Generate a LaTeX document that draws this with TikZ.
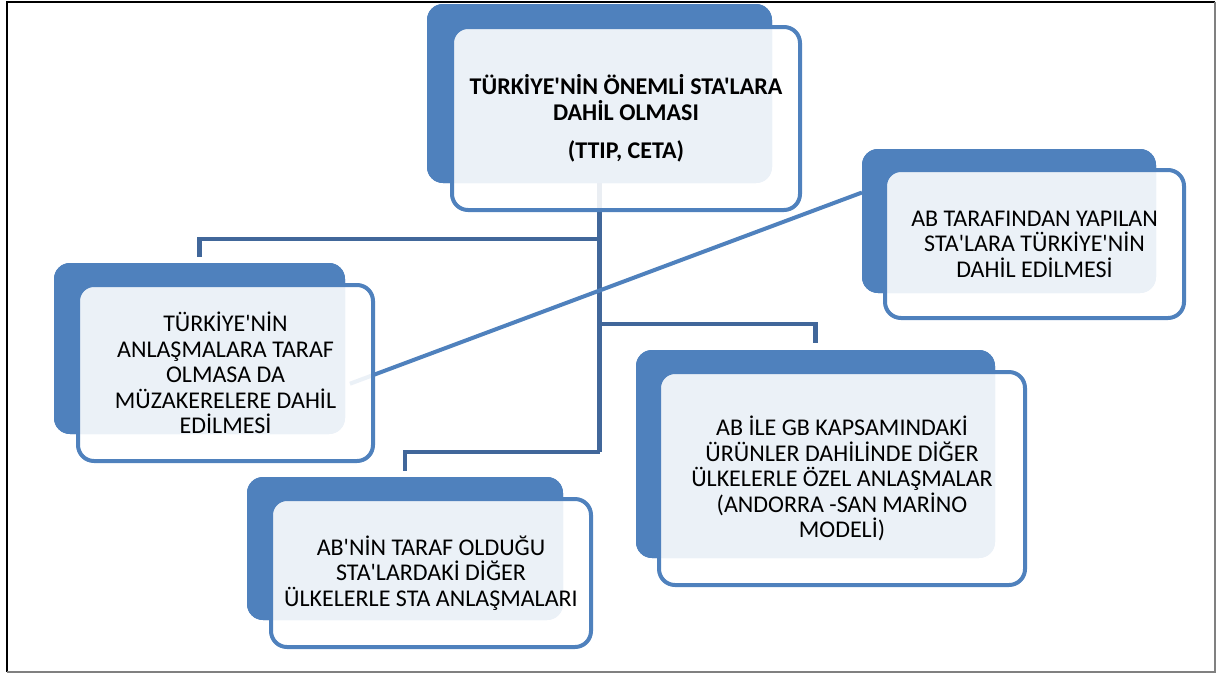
\documentclass[tikz,border=0pt]{standalone}
\usepackage{fontspec}
\setmainfont{Carlito}[Ligatures=TeXOff]
\definecolor{boxblue}{HTML}{4F81BD}
\definecolor{linkblue}{HTML}{41679A}
\begin{document}
\begin{tikzpicture}[x=1pt, y=-1pt]
\tikzstyle{back} = [fill=boxblue, rounded corners=16pt, inner sep=0pt];
\tikzstyle{front} = [draw=boxblue, line width=4pt, fill=white, fill opacity=0.89, text opacity=1, rounded corners=16pt, inner sep=0pt, align=center, font=\fontsize{24}{25.5}\selectfont];
\tikzstyle{link} = [draw=linkblue, line width=4.5pt];
\useasboundingbox (0,0) rectangle (1217,673);
% frame
\draw[black, line width=2pt] (6.5,672) -- (6.5,1.5) -- (1215,1.5);
\draw[gray, line width=1.2pt] (1215,1.5) -- (1215,672) -- (6.5,672);
% junctions
\coordinate (jl) at (599.5,239);
\coordinate (jr) at (599.5,324);
\coordinate (jb) at (599.5,452);
\coordinate (dl) at (350,383.7);
\coordinate (dr) at (862,192.5);
% back boxes
\node[back, minimum width=345pt, minimum height=179pt] (b1) at (599.5,93.5) {};
\node[back, minimum width=291pt, minimum height=171pt] (b2) at (199.5,348.5) {};
\node[back, minimum width=294pt, minimum height=144pt] (b3) at (1009,221) {};
\node[back, minimum width=316pt, minimum height=143pt] (b4) at (405,548.5) {};
\node[back, minimum width=359pt, minimum height=208pt] (b5) at (815.5,454) {};
% connectors
\draw[link] (b1.south) -- (jb);
\draw[link, shorten >=6pt] (jl) -| (b2.north);
\draw[link, shorten >=7pt] (jr) -| (b5.north);
\draw[link, shorten >=6pt] (jb) -| (b4.north);
\draw[draw=boxblue, line width=4pt] (dl) -- (dr);
% redraw back boxes over connectors
\node[back, minimum width=345pt, minimum height=179pt] at (b1) {};
\node[back, minimum width=291pt, minimum height=171pt] at (b2) {};
\node[back, minimum width=294pt, minimum height=144pt] at (b3) {};
\node[back, minimum width=316pt, minimum height=143pt] at (b4) {};
\node[back, minimum width=359pt, minimum height=208pt] at (b5) {};
% front boxes
\node[front, minimum width=348pt, minimum height=183pt] (f1) at (626,118.5) {\textbf{TÜRKİYE'NİN ÖNEMLİ STA'LARA}\\\textbf{DAHİL OLMASI}\\[13pt]\textbf{(TTIP, CETA)}};
\node[front, minimum width=295pt, minimum height=176pt] (f2) at (225.5,373) {TÜRKİYE'NİN\\ANLAŞMALARA TARAF\\OLMASA DA\\MÜZAKERELERE DAHİL\\EDİLMESİ};
\node[front, minimum width=299pt, minimum height=148pt] (f3) at (1034.5,244) {AB TARAFINDAN YAPILAN\\STA'LARA TÜRKİYE'NİN\\DAHİL EDİLMESİ};
\node[front, minimum width=320pt, minimum height=148pt] (f4) at (431,573) {AB'NİN TARAF OLDUĞU\\STA'LARDAKİ DİĞER\\ÜLKELERLE STA ANLAŞMALARI};
\node[front, minimum width=366pt, minimum height=213pt] (f5) at (842,478.5) {AB İLE GB KAPSAMINDAKİ\\ÜRÜNLER DAHİLİNDE DİĞER\\ÜLKELERLE ÖZEL ANLAŞMALAR\\(ANDORRA -SAN MARİNO\\MODELİ)};
\end{tikzpicture}
\end{document}
